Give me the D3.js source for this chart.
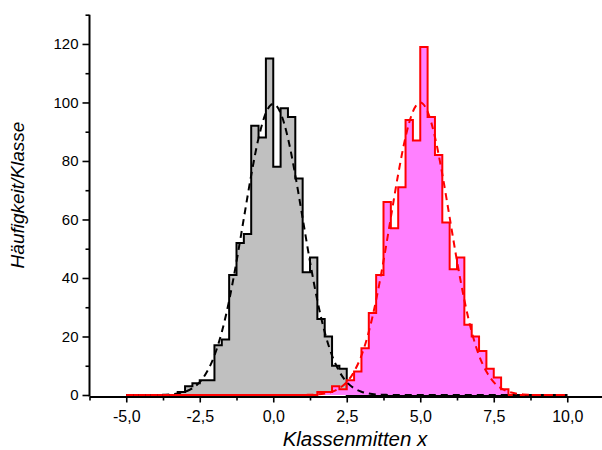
<!DOCTYPE html>
<html>
<head>
<meta charset="utf-8">
<script src="https://cdn.jsdelivr.net/npm/d3@7"></script>
<style>
  html, body { margin: 0; padding: 0; background: #fff; }
  svg { display: block; font-family: "Liberation Sans", Arial, sans-serif; }
</style>
</head>
<body>
<svg id="chart" width="602" height="450"></svg>
<script>
// Class boundaries (width 0.25) from -5 to 10
const classEdges = [
  -5, -4.75, -4.5, -4.25, -4, -3.75, -3.5, -3.25, -3, -2.75, -2.5, -2.25,
  -2, -1.75, -1.5, -1.25, -1, -0.75, -0.5, -0.25, 0, 0.25, 0.5, 0.75,
  1, 1.25, 1.5, 1.75, 2, 2.25, 2.5, 2.75, 3, 3.25, 3.5, 3.75,
  4, 4.25, 4.5, 4.75, 5, 5.25, 5.5, 5.75, 6, 6.25, 6.5, 6.75,
  7, 7.25, 7.5, 7.75, 8, 8.25, 8.5, 8.75, 9, 9.25, 9.5, 9.75, 10
];

// Counts per class, sample 1 (around 0)
const countsA = [
  0, 0, 0, 0, 0, 0, 0, 1, 3, 4, 5, 5,
  17, 19, 41, 52, 55, 92, 88, 115, 78, 98, 95, 74,
  42, 47, 26, 20, 10, 9, 0, 0, 0, 0, 0, 0,
  0, 0, 0, 0, 0, 0, 0, 0, 0, 0, 0, 0,
  0, 0, 0, 0, 0, 0, 0, 0, 0, 0, 0, 0
];

// Counts per class, sample 2 (around 5)
const countsB = [
  0, 0, 0, 0, 0, 0, 0, 0, 0, 0, 0, 0,
  0, 0, 0, 0, 0, 0, 0, 0, 0, 0, 0, 0,
  0, 0, 1, 1, 3, 2, 5, 8, 16, 28, 41, 66,
  57, 71, 94, 87, 119, 95, 82, 59, 43, 47, 24, 20,
  15, 9, 6, 2, 0, 0, 0, 0, 0, 0, 0, 0
];

// Gaussian fit curves, values at the class boundaries
const fitA = [
  0, 0, 0, 0, 0, 0.1, 0.2, 0.5, 1.1, 2.3, 4.4, 8.0,
  13.5, 21.5, 32.3, 45.6, 60.4, 75.1, 87.8, 96.4, 99.5, 96.4, 87.8, 75.1,
  60.4, 45.6, 32.3, 21.5, 13.5, 8.0, 4.4, 2.3, 1.1, 0.5, 0.2, 0.1,
  0, 0, 0, 0, 0, 0, 0, 0, 0, 0, 0, 0,
  0, 0, 0, 0, 0, 0, 0, 0, 0, 0, 0, 0, 0
];
const fitB = [
  0, 0, 0, 0, 0, 0, 0, 0, 0, 0, 0, 0,
  0, 0, 0, 0, 0, 0, 0, 0, 0, 0, 0, 0,
  0, 0.1, 0.2, 0.5, 1.1, 2.3, 4.4, 8.0, 13.5, 21.6, 32.5, 45.8,
  60.7, 75.5, 88.2, 96.9, 100, 96.9, 88.2, 75.5, 60.7, 45.8, 32.5, 21.6,
  13.5, 8.0, 4.4, 2.3, 1.1, 0.5, 0.2, 0.1, 0, 0, 0, 0, 0
];

// Axis ticks
const xMajorTicks = [-5, -2.5, 0, 2.5, 5, 7.5, 10];
const xMinorTicks = [-6.25, -3.75, -1.25, 1.25, 3.75, 6.25, 8.75];
const yMajorTicks = [0, 20, 40, 60, 80, 100, 120];
const yMinorTicks = [10, 30, 50, 70, 90, 110, 130];

const xLabel = "Klassenmitten x";
const yLabel = "Häufigkeit/Klasse";

// ---------------------------------------------------------------
const svg = d3.select("#chart");
const plot = { left: 89.5, right: 604, top: 14.7, bottom: 395 };
const axisY = plot.bottom + 1.5;   // x axis line sits just under the zero line

const x = d3.scaleLinear().domain([-6.25, 11.25]).range([plot.left, plot.right]);
const y = d3.scaleLinear().domain([0, 130]).range([plot.bottom, plot.top]);

const de = d3.formatLocale({ decimal: ",", thousands: ".", grouping: [3], currency: ["", " €"], minus: "-" });
const fmtX = de.format(".1f");
const fmtY = de.format("d");

// Axes (drawn first, data goes on top)
svg.append("g").attr("transform", `translate(0,${axisY})`)
  .call(d3.axisBottom(x).tickValues(xMajorTicks).tickSize(6).tickPadding(8).tickSizeOuter(0).tickFormat(fmtX));
svg.append("g").attr("transform", `translate(0,${axisY})`)
  .call(d3.axisBottom(x).tickValues(xMinorTicks).tickSize(4).tickSizeOuter(0).tickFormat(""))
  .select(".domain").remove();

const yAxisScale = y.copy().range([axisY, plot.top]);
svg.append("g").attr("transform", `translate(${plot.left},0)`)
  .call(d3.axisLeft(y).tickValues(yMajorTicks).tickSize(7).tickPadding(4).tickSizeOuter(0).tickFormat(fmtY))
  .select(".domain").attr("d", `M0,${axisY}V${plot.top}`);
svg.append("g").attr("transform", `translate(${plot.left},0)`)
  .call(d3.axisLeft(y).tickValues(yMinorTicks).tickSize(4).tickSizeOuter(0).tickFormat(""))
  .select(".domain").remove();

svg.selectAll(".domain").attr("stroke", "#000").attr("stroke-width", 2);
svg.selectAll(".tick line").attr("stroke", "#000").attr("stroke-width", 1.6);
svg.selectAll(".tick text").attr("fill", "#000")
  .style("font-family", "'Liberation Sans', Arial, sans-serif");
svg.selectAll("g").filter(function () { return this.getAttribute("transform") && this.getAttribute("transform").startsWith("translate(0"); })
  .selectAll(".tick text").style("font-size", "16px");
svg.selectAll("g").filter(function () { return this.getAttribute("transform") && this.getAttribute("transform").startsWith(`translate(${plot.left}`); })
  .selectAll(".tick text").style("font-size", "15px");

// step outline / fill for a histogram: one point per class start, plus the final edge
function stepPoints(counts) {
  const pts = counts.map((c, i) => [classEdges[i], c]);
  pts.push([classEdges[classEdges.length - 1], counts[counts.length - 1]]);
  return pts;
}
const stepArea = d3.area().curve(d3.curveStepAfter)
  .x(d => x(d[0])).y0(y(0)).y1(d => y(d[1]));
const stepLine = d3.line().curve(d3.curveStepAfter)
  .x(d => x(d[0])).y(d => y(d[1]));
const fitLine = d3.line().curve(d3.curveMonotoneX)
  .x(d => x(d[0])).y(d => y(d[1]));

const g = svg.append("g");

function drawHist(counts, fill, stroke) {
  const pts = stepPoints(counts);
  g.append("path").attr("d", stepArea(pts)).attr("fill", fill).attr("stroke", "none");
  g.append("path").attr("d", stepLine(pts)).attr("fill", "none")
    .attr("stroke", stroke).attr("stroke-width", 2).attr("stroke-linejoin", "miter");
}
drawHist(countsA, "#c0c0c0", "#000000");
drawHist(countsB, "#ff80ff", "#ff0000");

function drawFit(vals, stroke) {
  const pts = vals.map((v, i) => [classEdges[i], v]);
  g.append("path").attr("d", fitLine(pts)).attr("fill", "none")
    .attr("stroke", stroke).attr("stroke-width", 2).attr("stroke-dasharray", "7,5");
}
drawFit(fitA, "#000000");
drawFit(fitB, "#ff0000");

// Axis titles
svg.append("text")
  .attr("x", 355).attr("y", 446)
  .attr("text-anchor", "middle")
  .style("font-size", "20.5px").style("font-style", "italic")
  .text(xLabel);

svg.append("text")
  .attr("transform", "translate(24,195) rotate(-90)")
  .attr("text-anchor", "middle")
  .style("font-size", "19px").style("font-style", "italic")
  .text(yLabel);
</script>
</body>
</html>
